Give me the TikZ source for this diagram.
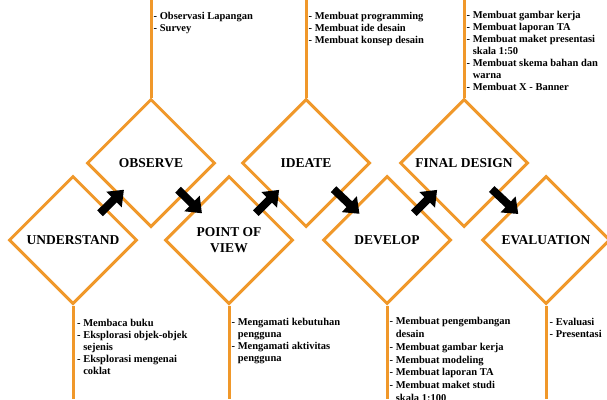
\documentclass[tikz,border=0pt]{standalone}
\usepackage{fontspec}
\setmainfont{Liberation Serif}
\usetikzlibrary{shapes.geometric,arrows.meta}
\definecolor{stageorange}{RGB}{240,152,42}
\def\cont{\hphantom{- }}

\tikzset{
	stage/.style={draw=stageorange, line width=3pt, diamond, aspect=1, minimum size=128pt, inner sep=0pt, align=center, font=\bfseries\fontsize{13.5}{16}\selectfont},
	stem/.style={draw=stageorange, line width=3pt},
	notes/.style={anchor=north west, inner sep=0pt, align=left, font=\bfseries\fontsize{10.5}{12}\selectfont},
	flow/.style={line width=8pt, -{Triangle[width=21pt,length=14pt]}, shorten <=38pt, shorten >=38pt}
}

\begin{document}
\begin{tikzpicture}[x=1pt, y=-1pt]
		%%%%% START %%%%%
		
		\useasboundingbox[fill=white] (0, 0) rectangle (607, 399);
		\clip (0, 0) rectangle (607, 399);
		\coordinate (top) at (0, 0);
		\coordinate (bottom) at (0, 399);
		
		\node[stage] (und) at (73, 240) {UNDERSTAND};
		\node[stage] (obs) at (151, 163) {OBSERVE};
		\node[stage] (pov) at (229, 240) {POINT OF\\VIEW};
		\node[stage] (ide) at (306, 163) {IDEATE};
		\node[stage] (dev) at (387, 240) {DEVELOP};
		\node[stage] (fin) at (464, 163) {FINAL DESIGN};
		\node[stage] (eva) at (546, 240) {EVALUATION};
		
		\draw[stem] (obs.north) -- (obs.north |- top);
		\draw[stem] (ide.north) -- (ide.north |- top);
		\draw[stem] (fin.north) -- (fin.north |- top);
		
		\draw[stem] (und.south) -- (und.south |- bottom);
		\draw[stem] (pov.south) -- (pov.south |- bottom);
		\draw[stem] (dev.south) -- (dev.south |- bottom);
		\draw[stem] (eva.south) -- (eva.south |- bottom);
		
		\node[notes] (obs-notes) at (153.5, 12.5) {- Observasi Lapangan\\- Survey};
		\node[notes] (ide-notes) at (308.5, 12.5) {- Membuat programming\\- Membuat ide desain\\- Membuat konsep desain};
		\node[notes] (fin-notes) at (466.5, 11) {- Membuat gambar kerja\\- Membuat laporan TA\\- Membuat maket presentasi\\\cont skala 1:50\\- Membuat skema bahan dan\\\cont warna\\- Membuat X - Banner};
		
		\node[notes] (und-notes) at (77, 319) {- Membaca buku\\- Eksplorasi objek-objek\\\cont sejenis\\- Eksplorasi mengenai\\\cont coklat};
		\node[notes] (pov-notes) at (231.5, 318.5) {- Mengamati kebutuhan\\\cont pengguna\\- Mengamati aktivitas\\\cont pengguna};
		\node[notes, font=\bfseries\fontsize{10.5}{12.7}\selectfont] (dev-notes) at (389.5, 317.5) {- Membuat pengembangan\\\cont desain\\- Membuat gambar kerja\\- Membuat modeling\\- Membuat laporan TA\\- Membuat maket studi\\\cont skala 1:100};
		\node[notes] (eva-notes) at (549.5, 318.5) {- Evaluasi\\- Presentasi};
		
		\draw[flow] (und.center) -- (obs.center);
		\draw[flow] (obs.center) -- (pov.center);
		\draw[flow] (pov.center) -- (ide.center);
		\draw[flow] (ide.center) -- (dev.center);
		\draw[flow] (dev.center) -- (fin.center);
		\draw[flow] (fin.center) -- (eva.center);
		
		%%%%% END %%%%%
\end{tikzpicture}
\end{document}
